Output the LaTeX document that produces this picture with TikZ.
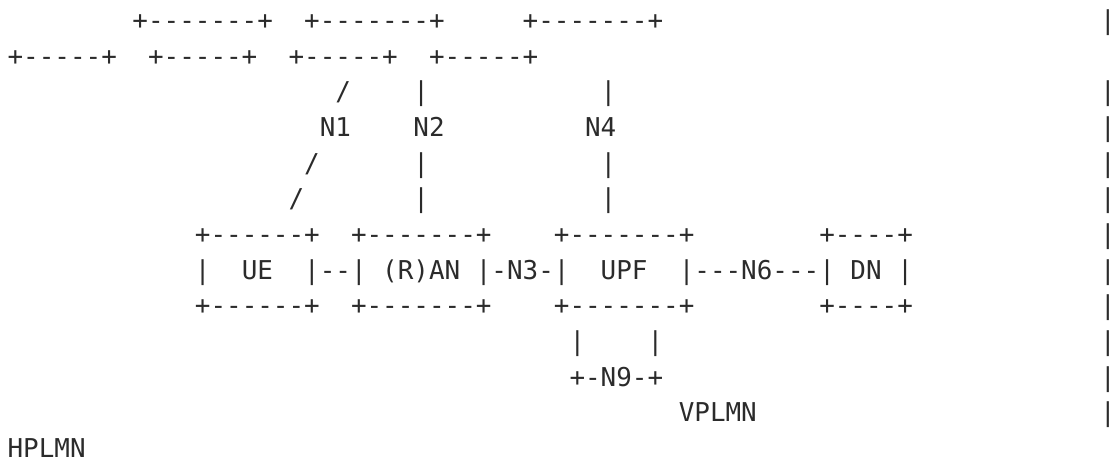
\documentclass[tikz,border=0pt]{standalone}
\usepackage{fontspec}
\setmonofont{DejaVu Sans Mono}
\usepackage{tikz}
\definecolor{ink}{HTML}{2B2B2B}
\tikzset{ascii/.style={font=\ttfamily\fontsize{12.94}{17.8}\selectfont, text=ink, inner sep=0pt, anchor=base west}}

\begin{document}
\begin{tikzpicture}[x=7.79pt, y=-17.8pt]
    \useasboundingbox (-0.463,-0.826) rectangle (70.846,12.096);
    % Wrapped top lines
    \node[ascii] (topA) at (8,0)  {+-------+};
    \node[ascii] (topB) at (19,0) {+-------+};
    \node[ascii] (topC) at (33,0) {+-------+};
    \foreach \c in {0,9,18,27}
        \node[ascii] (low\c) at (\c,1) {+-----+};
    % Interfaces N1, N2, N4
    \foreach \r/\c in {2/21,4/19,5/18}
        \node[ascii] (slash\r) at (\c,\r) {/};
    \foreach \r in {2,4,5} {
        \node[ascii] (barN2\r) at (26,\r) {|};
        \node[ascii] (barN4\r) at (38,\r) {|};
    }
    \node[ascii] (n1) at (20,3) {N1};
    \node[ascii] (n2) at (26,3) {N2};
    \node[ascii] (n4) at (37,3) {N4};
    % Boxes UE, (R)AN, UPF, DN
    \foreach \r/\s in {6/t,8/b} {
        \node[ascii] (ue\s)  at (12,\r) {+------+};
        \node[ascii] (ran\s) at (22,\r) {+-------+};
        \node[ascii] (upf\s) at (35,\r) {+-------+};
        \node[ascii] (dn\s)  at (52,\r) {+----+};
    }
    \node[ascii] (ueL)  at (12,7) {|};
    \node[ascii] (ue)   at (15,7) {UE};
    \node[ascii] (uran) at (19,7) {|--|};
    \node[ascii] (ran)  at (24,7) {(R)AN};
    \node[ascii] (n3)   at (30,7) {|-N3-|};
    \node[ascii] (upf)  at (38,7) {UPF};
    \node[ascii] (n6)   at (43,7) {|---N6---|};
    \node[ascii] (dn)   at (54,7) {DN};
    \node[ascii] (dnR)  at (57,7) {|};
    % N9 loop
    \node[ascii] (n9L) at (36,9) {|};
    \node[ascii] (n9R) at (41,9) {|};
    \node[ascii] (n9)  at (36,10) {+-N9-+};
    % Network labels and right edge
    \node[ascii] (vplmn) at (43,11) {VPLMN};
    \node[ascii] (hplmn) at (0,12)  {HPLMN};
    \foreach \r in {0,2,3,4,5,6,7,8,9,10,11}
        \node[ascii] (edge\r) at (70,\r) {|};
\end{tikzpicture}
\end{document}
